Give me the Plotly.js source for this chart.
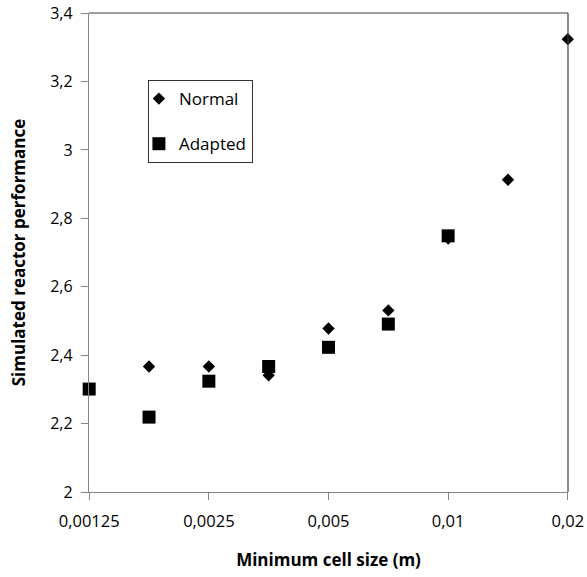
<!DOCTYPE html>
<html>
<head>
<meta charset="utf-8">
<script src="https://cdn.plot.ly/plotly-3.0.1.min.js"></script>
<style>html,body{margin:0;padding:0;background:#fff}#chart{width:587px;height:577px}</style>
</head>
<body>
<div id="chart"></div>
<script>
const normalX = [0.0017678, 0.0025, 0.0035355, 0.005, 0.0070711, 0.01, 0.0141421, 0.02];
const normalY = [2.367, 2.367, 2.341, 2.478, 2.531, 2.741, 2.913, 3.324];
const adaptedX = [0.00125, 0.0017678, 0.0025, 0.0035355, 0.005, 0.0070711, 0.01];
const adaptedY = [2.301, 2.219, 2.324, 2.367, 2.423, 2.491, 2.749];
const xTickVals = [0.00125, 0.0025, 0.005, 0.01, 0.02];
const xTickText = ["0,00125", "0,0025", "0,005", "0,01", "0,02"];
const yTickVals = [2, 2.2, 2.4, 2.6, 2.8, 3, 3.2, 3.4];
const yTickText = ["2", "2,2", "2,4", "2,6", "2,8", "3", "3,2", "3,4"];

const font = "Open Sans, Liberation Sans, sans-serif";
const traces = [
  {x: normalX, y: normalY, name: "Normal", mode: "markers", type: "scatter", legendgroup: "a",
   marker: {symbol: "diamond", size: 9.5, color: "#000"}, cliponaxis: false},
  {x: adaptedX, y: adaptedY, name: "Adapted", mode: "markers", type: "scatter", legendgroup: "b",
   marker: {symbol: "square", size: 13, color: "#000"}, cliponaxis: false}
];
const lx0 = Math.log10(0.00125) - 0.0005, lx1 = Math.log10(0.02) + 0.0005;
const layout = {
  width: 587, height: 577,
  margin: {l: 89, r: 19, t: 13, b: 85},
  paper_bgcolor: "#fff", plot_bgcolor: "#fff",
  font: {family: font, size: 16.5, color: "#000"},
  showlegend: true,
  legend: {x: 0.123, y: 0.86, xanchor: "left", yanchor: "top", bordercolor: "#333", borderwidth: 1,
    bgcolor: "#fff", font: {size: 17, family: font}, traceorder: "grouped", tracegroupgap: 20,
    itemwidth: 30, indentation: -10},
  xaxis: {type: "log", range: [lx0, lx1], tickvals: xTickVals, ticktext: xTickText,
    showgrid: false, zeroline: false, showline: true, linecolor: "#868686", linewidth: 1.2,
    ticks: "outside", ticklen: 7, tickcolor: "#868686", tickfont: {size: 16.5}, ticklabelstandoff: 7,
    ticklabeloverflow: "allow",
    title: {text: "<b>Minimum cell size (m)</b>", font: {size: 17}, standoff: 23}},
  yaxis: {range: [2, 3.4005], tickvals: yTickVals, ticktext: yTickText,
    showgrid: false, zeroline: false, showline: true, linecolor: "#868686", linewidth: 1.2,
    ticks: "outside", ticklen: 7, tickcolor: "#868686", tickfont: {size: 16}, ticklabelstandoff: 5,
    ticklabeloverflow: "allow",
    title: {text: "<b>Simulated reactor performance</b>", font: {size: 17}, standoff: 20}},
  shapes: [
    {type: "line", xref: "paper", yref: "paper", x0: 0, x1: 1, y0: 1, y1: 1, line: {color: "#404040", width: 1.2}, layer: "above"},
    {type: "line", xref: "paper", yref: "paper", x0: 1, x1: 1, y0: 0, y1: 1, line: {color: "#404040", width: 1.2}, layer: "above"}
  ]
};
Plotly.newPlot("chart", traces, layout, {displayModeBar: false, staticPlot: true});
</script>
</body>
</html>
